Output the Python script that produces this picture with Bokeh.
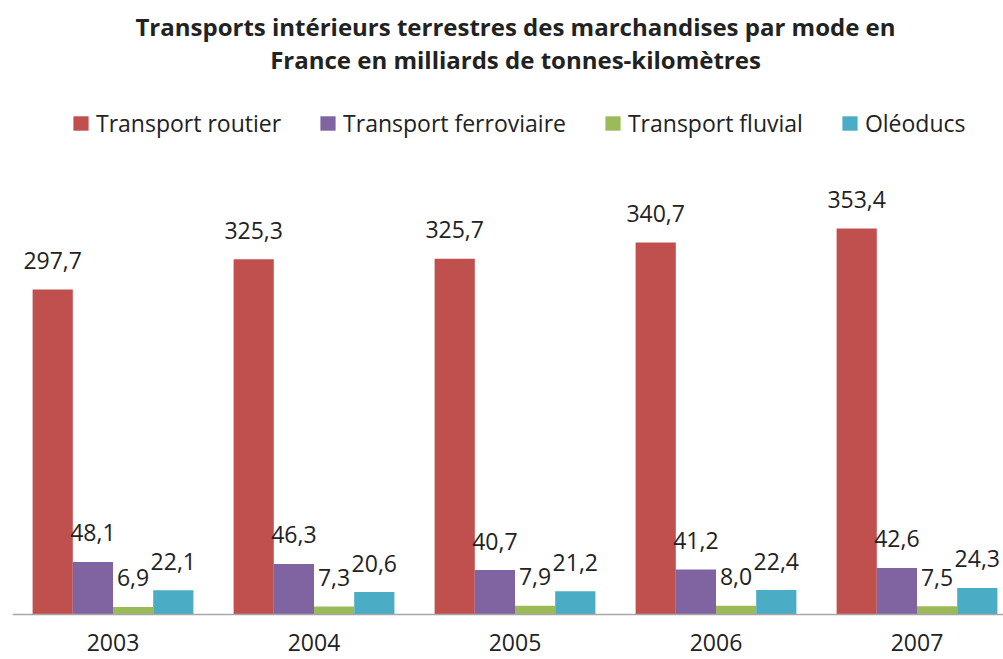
from bokeh.plotting import figure
from bokeh.models import Range1d, Span, Label, Legend, LegendItem, ColumnDataSource
from bokeh.core.properties import value
from bokeh.embed import file_html
from bokeh.resources import INLINE

years = ["2003", "2004", "2005", "2006", "2007"]
series_names = ["Transport routier", "Transport ferroviaire", "Transport fluvial", "Oléoducs"]
routier = [297.7, 325.3, 325.7, 340.7, 353.4]
ferroviaire = [48.1, 46.3, 40.7, 41.2, 42.6]
fluvial = [6.9, 7.3, 7.9, 8.0, 7.5]
oleoducs = [22.1, 20.6, 21.2, 22.4, 24.3]
colors = ["#C0504D", "#8064A2", "#9BBB59", "#4BACC6"]
title_lines = ["Transports intérieurs terrestres des marchandises par mode en",
               "France en milliards de tonnes-kilomètres"]

FONT = "Open Sans"
TXT = "#222222"

# layout constants (pixels)
W, H = 1003, 659
LEFT = 12
GROUP_PX = 201.0
PX_PER_UNIT = 1.092
BASE_CANVAS = 614  # baseline position from canvas top

x0 = -0.5
x1 = x0 + (W - LEFT) / GROUP_PX
y1 = BASE_CANVAS / PX_PER_UNIT
y0 = -(H - BASE_CANVAS) / PX_PER_UNIT

def ref_x(px):
    return (px - LEFT) / GROUP_PX - 0.5

def ref_y(py):
    return (BASE_CANVAS - py) / PX_PER_UNIT

p = figure(width=W, height=H, x_range=Range1d(x0, x1), y_range=Range1d(y0, y1),
           output_backend="svg", toolbar_location=None, x_axis_type=None, y_axis_type=None,
           min_border_left=LEFT, min_border_right=0, min_border_top=0, min_border_bottom=0,
           outline_line_color=None, background_fill_color="white", border_fill_color="white")

bar_w = 0.2
offsets = [-0.3, -0.1, 0.1, 0.3]
all_series = [routier, ferroviaire, fluvial, oleoducs]
renderers = []
for j, vals in enumerate(all_series):
    xs = [i + offsets[j] for i in range(len(years))]
    src = ColumnDataSource(dict(x=xs, top=vals,
                                lab=[f"{v:.1f}".replace(".", ",") for v in vals]))
    r = p.vbar(x="x", top="top", width=bar_w, source=src, fill_color=colors[j], line_color=None)
    renderers.append(r)
    p.text(x="x", y="top", text="lab", source=src, text_align="center",
           text_baseline="alphabetic", y_offset=-29, text_font=value(FONT),
           text_font_size="23px", text_color=TXT)

p.add_layout(Span(location=0, dimension="width", line_color="#A6A6A6", line_width=1.5))

p.text(x=list(range(len(years))), y=[0] * len(years), text=years, text_align="center",
       text_baseline="alphabetic", y_offset=28, text_font=value(FONT),
       text_font_size="23px", text_color=TXT)

for line, py in zip(title_lines, [26, 59]):
    p.add_layout(Label(x=ref_x(515), y=ref_y(py), text=line, text_align="center",
                       text_baseline="alphabetic", text_font=FONT, text_font_size="24px",
                       text_font_style="bold", text_color=TXT))

legend = Legend(items=[LegendItem(label=n, renderers=[r]) for n, r in zip(series_names, renderers)],
                orientation="horizontal", location=(59, 520), glyph_width=19, glyph_height=18,
                label_standoff=6, spacing=37, padding=0, margin=0,
                border_line_color=None, background_fill_alpha=0,
                label_text_font=FONT, label_text_font_size="23px", label_text_color=TXT)
p.add_layout(legend)

open("out.html", "w").write(file_html(p, INLINE))
